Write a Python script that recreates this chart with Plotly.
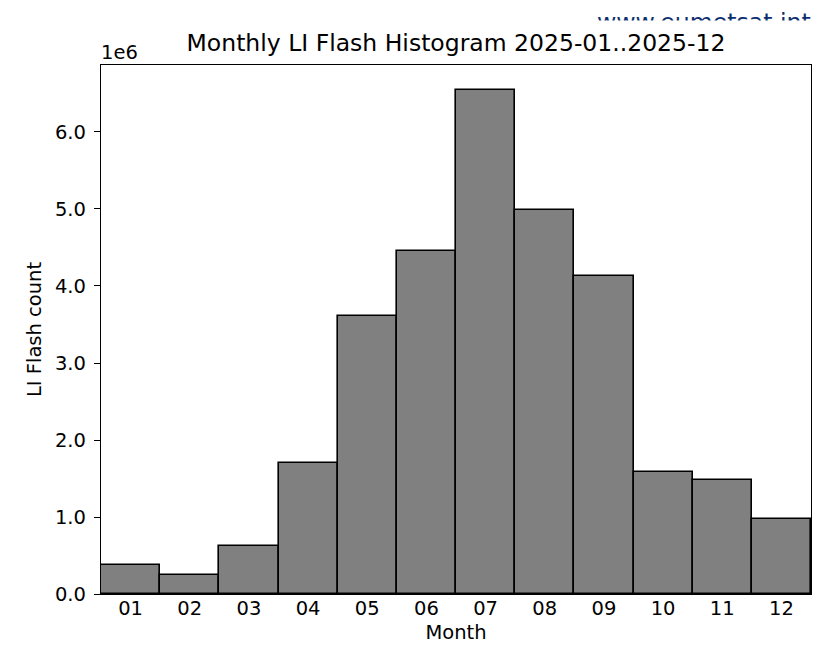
import plotly.graph_objects as go

months = ["01", "02", "03", "04", "05", "06", "07", "08", "09", "10", "11", "12"]
month_pos = [1, 2, 3, 4, 5, 6, 7, 8, 9, 10, 11, 12]
flash_counts = [373000, 243000, 627000, 1700000, 3610000, 4450000,
                6550000, 4990000, 4130000, 1580000, 1480000, 980000]
ytick_vals = [0, 1e6, 2e6, 3e6, 4e6, 5e6, 6e6]
ytick_text = ["0.0", "1.0", "2.0", "3.0", "4.0", "5.0", "6.0"]

FONT = "DejaVu Sans"

fig = go.Figure()
fig.add_trace(go.Bar(
    x=month_pos, y=flash_counts, width=1,
    marker=dict(color="#808080", line=dict(color="black", width=1.6)),
    hoverinfo="x+y",
))

fig.update_layout(
    width=819, height=649,
    margin=dict(l=101, r=8, t=65, b=55),
    paper_bgcolor="white", plot_bgcolor="white",
    font=dict(family=FONT, size=19.5, color="black"),
    showlegend=False,
    bargap=0,
    title=dict(text="Monthly LI Flash Histogram 2025-01..2025-12",
               x=0.5, xref="paper", xanchor="center",
               y=1, yref="container", yanchor="top", pad=dict(t=35),
               font=dict(family=FONT, size=23.5, color="black")),
    xaxis=dict(range=[0.5, 12.5], tickvals=month_pos, ticktext=months,
               showgrid=False, zeroline=False, automargin=False,
               showline=True, linecolor="black", linewidth=1.3, mirror=True,
               ticks="", ticklen=0, ticklabelstandoff=-4,
               title=dict(text="Month", font=dict(family=FONT, size=19.5), standoff=6)),
    yaxis=dict(range=[0, 6.87e6], tickvals=ytick_vals, ticktext=ytick_text,
               showgrid=False, zeroline=False, automargin=False,
               showline=True, linecolor="black", linewidth=1.3, mirror=True,
               ticks="outside", ticklen=6, tickwidth=1.3, tickcolor="black",
               ticklabelstandoff=4,
               title=dict(text="LI Flash count", font=dict(family=FONT, size=19.5), standoff=8)),
)

fig.add_annotation(text="1e6", xref="paper", yref="paper", x=0, y=1,
                   xanchor="left", yanchor="bottom", xshift=-2, yshift=-1, showarrow=False,
                   font=dict(family=FONT, size=19.5, color="black"))

# watermark, partially hidden at the bottom
fig.add_annotation(text="www.eumetsat.int", xref="paper", yref="paper",
                   x=1, xanchor="right", xshift=2, y=1, yanchor="bottom", yshift=27,
                   showarrow=False,
                   font=dict(family=FONT, size=23.6, color="#0b2e6f"))
fig.add_annotation(text=" ", xref="paper", yref="paper",
                   x=1, xanchor="right", xshift=8, y=1, yanchor="bottom", yshift=31,
                   width=240, height=10, bgcolor="white", showarrow=False,
                   font=dict(size=8))

fig.write_html("out.html", config={"displayModeBar": False},
               post_script="document.body.style.margin='0';document.body.style.padding='0';")
